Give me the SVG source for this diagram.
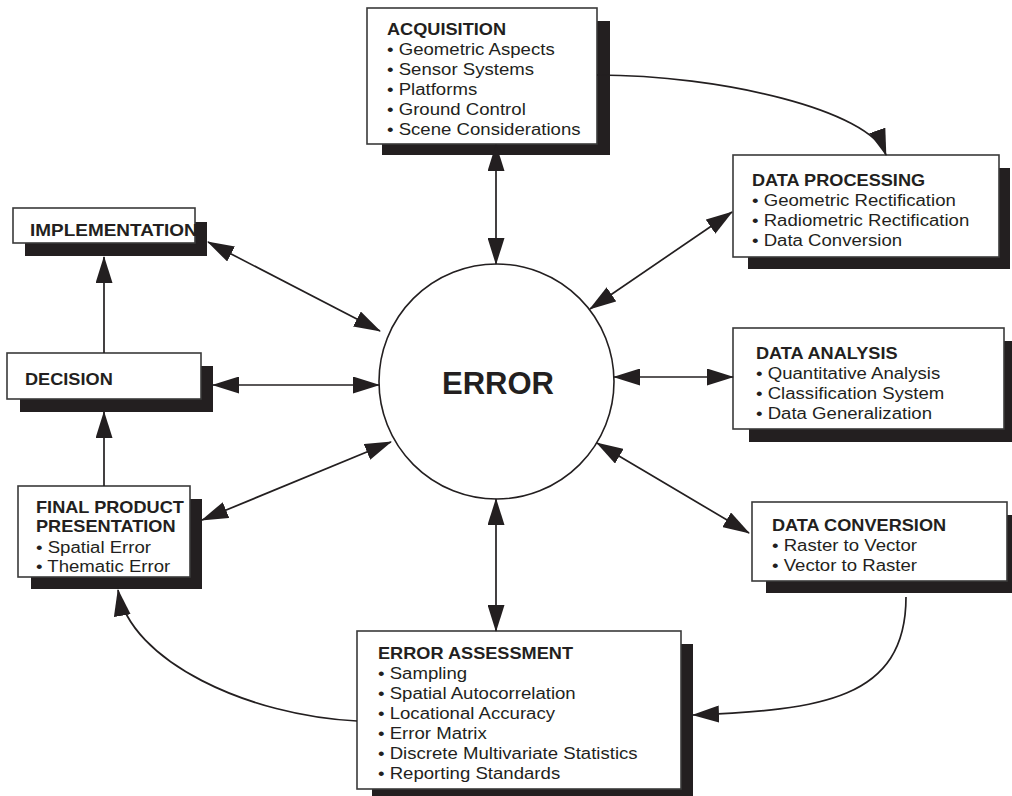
<svg xmlns="http://www.w3.org/2000/svg" width="1012" height="796" viewBox="0 0 1012 796">
<style>
.box{fill:#fff;stroke:#3a3a3a;stroke-width:1.6}
.shadow{fill:#231f20}
.title{font-family:"Liberation Sans",Arial,Helvetica,sans-serif;font-weight:bold;font-size:16.9px;fill:#231f20}
.item{font-family:"Liberation Sans",Arial,Helvetica,sans-serif;font-size:17.3px;fill:#231f20}
.big{font-family:"Liberation Sans",Arial,Helvetica,sans-serif;font-weight:bold;font-size:31px;fill:#231f20}
.conn{fill:none;stroke:#231f20;stroke-width:1.7}
</style>
<defs>
<marker id="ah" viewBox="0 0 27 17" refX="26" refY="8.5" markerWidth="27" markerHeight="17" markerUnits="userSpaceOnUse" orient="auto-start-reverse">
<path d="M0,0 L27,8.5 L0,17 z" fill="#231f20"/>
</marker>
</defs>
<rect width="1012" height="796" fill="#fff"/>

<g id="error">
<circle cx="496.5" cy="381.5" r="117.5" fill="#fff" stroke="#231f20" stroke-width="1.6"/>
<text class="big" x="498" y="394" text-anchor="middle">ERROR</text>
</g>

<g id="acquisition">
<rect class="shadow" x="382" y="21" width="228" height="134"/>
<rect class="box" x="367" y="8" width="230" height="136"/>
<g transform="translate(387,0) scale(1.075,1)">
<text class="title" x="0" y="35">ACQUISITION</text>
<text class="item" x="0" y="55">• Geometric Aspects</text>
<text class="item" x="0" y="75">• Sensor Systems</text>
<text class="item" x="0" y="95">• Platforms</text>
<text class="item" x="0" y="115">• Ground Control</text>
<text class="item" x="0" y="135">• Scene Considerations</text>
</g>
</g>

<g id="data-processing">
<rect class="shadow" x="748" y="168" width="262" height="101"/>
<rect class="box" x="733" y="155" width="266" height="102"/>
<g transform="translate(752,0) scale(1.075,1)">
<text class="title" x="0" y="186">DATA PROCESSING</text>
<text class="item" x="0" y="206">• Geometric Rectification</text>
<text class="item" x="0" y="226">• Radiometric Rectification</text>
<text class="item" x="0" y="246">• Data Conversion</text>
</g>
</g>

<g id="data-analysis">
<rect class="shadow" x="749" y="341" width="265" height="101"/>
<rect class="box" x="733" y="328" width="271" height="101"/>
<g transform="translate(756,0) scale(1.075,1)">
<text class="title" x="0" y="359">DATA ANALYSIS</text>
<text class="item" x="0" y="379">• Quantitative Analysis</text>
<text class="item" x="0" y="399">• Classification System</text>
<text class="item" x="0" y="419">• Data Generalization</text>
</g>
</g>

<g id="data-conversion">
<rect class="shadow" x="766" y="515" width="252" height="78"/>
<rect class="box" x="752" y="502" width="255" height="79"/>
<g transform="translate(772,0) scale(1.075,1)">
<text class="title" x="0" y="531">DATA CONVERSION</text>
<text class="item" x="0" y="551">• Raster to Vector</text>
<text class="item" x="0" y="571">• Vector to Raster</text>
</g>
</g>

<g id="error-assessment">
<rect class="shadow" x="372" y="644" width="321" height="153"/>
<rect class="box" x="357" y="631" width="324" height="158"/>
<g transform="translate(378,0) scale(1.075,1)">
<text class="title" x="0" y="659">ERROR ASSESSMENT</text>
<text class="item" x="0" y="679">• Sampling</text>
<text class="item" x="0" y="699">• Spatial Autocorrelation</text>
<text class="item" x="0" y="719">• Locational Accuracy</text>
<text class="item" x="0" y="739">• Error Matrix</text>
<text class="item" x="0" y="759">• Discrete Multivariate Statistics</text>
<text class="item" x="0" y="779">• Reporting Standards</text>
</g>
</g>

<g id="final-product">
<rect class="shadow" x="31" y="499" width="171" height="90"/>
<rect class="box" x="18" y="486" width="172" height="91"/>
<g transform="translate(36,0) scale(1.075,1)">
<text class="title" x="0" y="513">FINAL PRODUCT</text>
<text class="title" x="0" y="532">PRESENTATION</text>
<text class="item" x="0" y="553">• Spatial Error</text>
<text class="item" x="0" y="572">• Thematic Error</text>
</g>
</g>

<g id="decision">
<rect class="shadow" x="20" y="366" width="193" height="46"/>
<rect class="box" x="7" y="353" width="194" height="46"/>
<g transform="translate(25,0) scale(1.075,1)">
<text class="title" x="0" y="385">DECISION</text>
</g>
</g>

<g id="implementation">
<rect class="shadow" x="25" y="222" width="182" height="34"/>
<rect class="box" x="13" y="208" width="182" height="35"/>
<g transform="translate(30,0) scale(1.075,1)">
<text class="title" x="0" y="236" textLength="156" lengthAdjust="spacingAndGlyphs">IMPLEMENTATION</text>
</g>
</g>

<g id="connectors">
<line class="conn" x1="496" y1="145" x2="496" y2="264" marker-start="url(#ah)" marker-end="url(#ah)"/>
<line class="conn" x1="590" y1="309" x2="732" y2="212" marker-start="url(#ah)" marker-end="url(#ah)"/>
<line class="conn" x1="380" y1="331" x2="208" y2="242" marker-start="url(#ah)" marker-end="url(#ah)"/>
<line class="conn" x1="379" y1="385" x2="213" y2="385" marker-start="url(#ah)" marker-end="url(#ah)"/>
<line class="conn" x1="391" y1="442" x2="202" y2="520" marker-start="url(#ah)" marker-end="url(#ah)"/>
<line class="conn" x1="614" y1="377" x2="733" y2="377" marker-start="url(#ah)" marker-end="url(#ah)"/>
<line class="conn" x1="597" y1="443" x2="749" y2="533" marker-start="url(#ah)" marker-end="url(#ah)"/>
<line class="conn" x1="496" y1="499" x2="496" y2="631" marker-start="url(#ah)" marker-end="url(#ah)"/>
<line class="conn" x1="104" y1="353" x2="104" y2="257" marker-end="url(#ah)"/>
<line class="conn" x1="104" y1="486" x2="104" y2="412" marker-end="url(#ah)"/>
<path class="conn" d="M597,75 C720,75 870,110 886,155" marker-end="url(#ah)"/>
<path class="conn" d="M906,597 C906,700 820,710 693,715" marker-end="url(#ah)"/>
<path class="conn" d="M357,721 C250,716 130,662 118,590" marker-end="url(#ah)"/>
</g>
</svg>
